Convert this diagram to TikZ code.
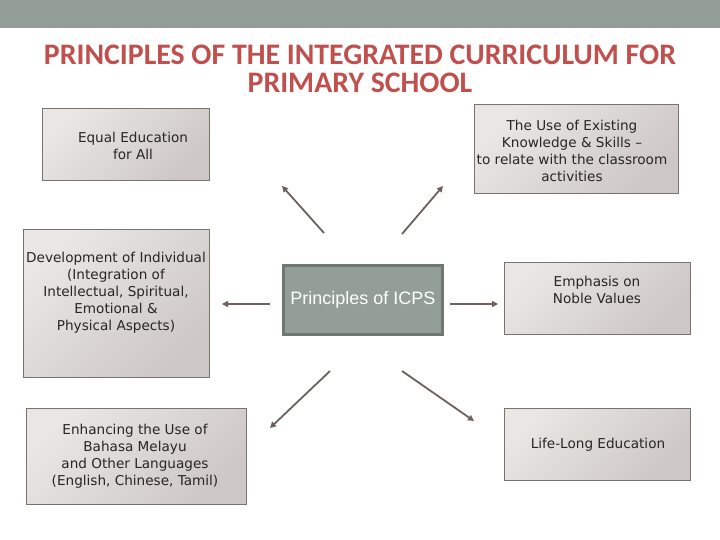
\documentclass[tikz,border=0pt]{standalone}
\usepackage{fontspec}
\setmainfont{DejaVu Sans}
\newfontfamily\titlefont{Carlito}
\newfontfamily\ctrfont{Liberation Sans}
\usetikzlibrary{arrows.meta}
\definecolor{banner}{HTML}{939F96}
\definecolor{ctrline}{HTML}{6E7770}
\definecolor{titlec}{HTML}{C0504D}
\definecolor{boxlight}{HTML}{E9E6E4}
\definecolor{boxdark}{HTML}{CDC8C5}
\definecolor{boxline}{HTML}{79736F}
\definecolor{arrowc}{HTML}{6B625E}
\begin{document}
\begin{tikzpicture}[x=1pt,y=-1pt,
    box/.style={draw=boxline, line width=1pt, top color=boxlight,
        bottom color=boxdark, shading angle=45, inner sep=0pt},
    boxtext/.style={align=center, text=black!85,
        font=\fontsize{13.6}{17}\selectfont},
    arrow/.style={draw=arrowc, line width=1.8pt,
        -{Triangle[length=6pt,width=6pt]}}]
    \useasboundingbox (0,0) rectangle (720,540);
    \fill[banner] (0,0) rectangle (720,28);

    %title
    \node[font=\titlefont\bfseries\fontsize{29.8}{28}\selectfont, text=titlec, align=center]
        (title) at (360,69) {PRINCIPLES OF THE INTEGRATED CURRICULUM FOR\\PRIMARY SCHOOL};

    %centre
    \node[draw=ctrline, line width=3pt, fill=banner, minimum width=159pt,
        minimum height=69pt, font=\ctrfont\fontsize{18}{18}\selectfont, text=white]
        (ctr) at (363,300) {Principles of ICPS};

    %boxes on the left
    \node[box, minimum width=167pt, minimum height=72pt] (equal) at (125.5,145) {};
    \node[boxtext] (equalt) at (133,146) {Equal Education\\for All};
    \node[box, minimum width=186pt, minimum height=147pt] (dev) at (116,303.5) {};
    \node[boxtext] (devt) at (116,293) {Development of Individual\\(Integration of\\Intellectual, Spiritual,\\Emotional \&\\Physical Aspects)};
    \node[box, minimum width=220pt, minimum height=96pt] (enh) at (136,456) {};
    \node[boxtext] (enht) at (135,456) {Enhancing the Use of\\Bahasa Melayu\\and Other Languages\\(English, Chinese, Tamil)};

    %boxes on the right
    \node[box, minimum width=204pt, minimum height=89pt] (exist) at (576,149.5) {};
    \node[boxtext] (existt) at (572,150.5) {The Use of Existing\\Knowledge \& Skills --\\to relate with the classroom\\activities};
    \node[box, minimum width=186pt, minimum height=72pt] (emph) at (597,298) {};
    \node[boxtext] (emphtt) at (597,290) {Emphasis on\\Noble Values};
    \node[box, minimum width=186pt, minimum height=72pt] (life) at (597,444) {};
    \node[boxtext] (lifet) at (598,445) {Life-Long Education};

    %arrows
    \coordinate (ul1) at (324,233); \coordinate (ul2) at (282,186);
    \coordinate (ur1) at (402,234); \coordinate (ur2) at (443,186);
    \coordinate (l1) at (270,304);  \coordinate (l2) at (222,304);
    \coordinate (r1) at (450,304);  \coordinate (r2) at (498,304);
    \coordinate (dl1) at (330,371); \coordinate (dl2) at (270,428);
    \coordinate (dr1) at (402,371); \coordinate (dr2) at (474,421);
    \foreach \a in {ul,ur,l,r,dl,dr}
    {
        \draw[arrow] (\a1) -- (\a2);
    }
\end{tikzpicture}
\end{document}
